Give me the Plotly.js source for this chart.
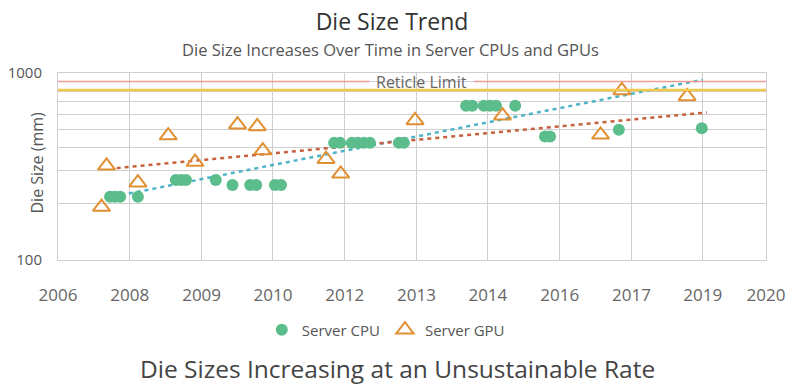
<!DOCTYPE html>
<html>
<head>
<meta charset="utf-8">
<script src="https://cdn.plot.ly/plotly-3.0.1.min.js"></script>
<style>html,body{margin:0;padding:0;background:#fff;}#chart{width:800px;height:390px;}</style>
</head>
<body>
<div id="chart"></div>
<script>
// Server CPU die sizes (mm²) by year
const cpuYears = [2007.03, 2007.13, 2007.23, 2007.58, 2008.33, 2008.43, 2008.53, 2009.12, 2009.45, 2009.80, 2009.92, 2010.29, 2010.41,
                  2011.46, 2011.58, 2011.81, 2011.93, 2012.05, 2012.17, 2012.74, 2012.84,
                  2014.07, 2014.19, 2014.42, 2014.54, 2014.66, 2015.04, 2015.63, 2015.73, 2017.09, 2018.73];
const cpuSizes = [218, 218, 218, 218, 268, 268, 268, 268, 252, 252, 252, 252, 252,
                  423, 423, 423, 423, 423, 423, 423, 423,
                  668, 668, 668, 668, 668, 668, 457, 457, 497, 507];
// Server GPU die sizes (mm²) by year
const gpuYears = [2006.86, 2006.96, 2007.58, 2008.18, 2008.71, 2009.55, 2009.94, 2010.05, 2011.30, 2011.59, 2013.06, 2014.79, 2016.73, 2017.15, 2018.44];
const gpuSizes = [192, 319, 259, 463, 334, 529, 518, 385, 346, 289, 558, 591, 467, 807, 749];
// Trend line endpoints
const cpuTrendX = [2007.09, 2018.75];
const cpuTrendY = [218, 921];
const gpuTrendX = [2007.16, 2018.83];
const gpuTrendY = [310, 615];
// Reticle limit levels
const reticleRed = 900;
const reticleYellow = 810;
// Axis ticks
const xTickVals = [2006, 2007.42, 2008.84, 2010.25, 2011.67, 2013.09, 2014.5, 2015.92, 2017.34, 2018.75, 2020];
const xTickText = ["2006", "2008", "2009", "2010", "2012", "2013", "2014", "2016", "2017", "2019", "2020"];
const yTickVals = [100, 200, 300, 400, 500, 600, 700, 800, 900, 1000];
const yTickText = ["100", "", "", "", "", "", "", "", "", "1000"];

const FONT = "Open Sans, Lato, sans-serif";

const traces = [
  {x: cpuTrendX, y: cpuTrendY, mode: "lines", showlegend: false, hoverinfo: "skip",
   line: {color: "#4db3c8", width: 2.5, dash: "4px,4px"}},
  {x: gpuTrendX, y: gpuTrendY, mode: "lines", showlegend: false, hoverinfo: "skip",
   line: {color: "#c8603e", width: 2.5, dash: "4px,4px"}},
  {x: cpuYears, y: cpuSizes, mode: "markers", name: "Server CPU", type: "scatter",
   marker: {symbol: "circle", size: 12, color: "#5cbd8c", line: {width: 0}}},
  {x: gpuYears, y: gpuSizes, mode: "markers", name: "Server GPU", type: "scatter",
   marker: {symbol: "triangle-up-open", size: 15, color: "#e08f32", line: {width: 2, color: "#e08f32"}}}
];

const layout = {
  width: 800, height: 390,
  margin: {l: 58, r: 34, t: 73, b: 130},
  paper_bgcolor: "#fff", plot_bgcolor: "#fff",
  font: {family: FONT, color: "#555", size: 14},
  title: {text: "Die Size Trend", x: 0.49, xanchor: "center", y: 0.945, yanchor: "middle",
          font: {family: FONT, size: 23, color: "#333"}},
  xaxis: {type: "linear", range: [2006, 2020], tickmode: "array", tickvals: xTickVals, ticktext: xTickText,
          showgrid: true, gridcolor: "#cfcfcf", gridwidth: 1, zeroline: false,
          showline: true, linecolor: "#cfcfcf", mirror: true, ticks: "", ticklen: 0, ticklabelstandoff: 20,
          tickfont: {family: FONT, size: 17, color: "#666"}, automargin: false},
  yaxis: {type: "log", range: [2, 3], tickmode: "array", tickvals: yTickVals, ticktext: yTickText,
          showgrid: true, gridcolor: "#cfcfcf", gridwidth: 1, zeroline: false,
          showline: true, linecolor: "#cfcfcf", mirror: true, ticks: "", ticklabelstandoff: 12,
          tickfont: {family: FONT, size: 15, color: "#555"}, automargin: false},
  legend: {orientation: "h", x: 0.463, xanchor: "center", y: -0.374, yanchor: "middle",
           font: {family: FONT, size: 15, color: "#555"}, itemwidth: 30},
  shapes: [
    {type: "line", xref: "paper", x0: 0, x1: 0.44, yref: "y", y0: reticleRed, y1: reticleRed,
     line: {color: "#ef9a94", width: 1.5}, layer: "above"},
    {type: "line", xref: "paper", x0: 0.588, x1: 1, yref: "y", y0: reticleRed, y1: reticleRed,
     line: {color: "#ef9a94", width: 1.5}, layer: "above"},
    {type: "line", xref: "paper", x0: 0, x1: 1, yref: "y", y0: reticleYellow, y1: reticleYellow,
     line: {color: "#f1c94a", width: 2.5}, layer: "above"}
  ],
  annotations: [
    {text: "Die Size Increases Over Time in Server CPUs and GPUs", xref: "paper", yref: "paper",
     x: 0.47, y: 1.123, xanchor: "center", yanchor: "middle", showarrow: false,
     font: {family: FONT, size: 16.5, color: "#555"}},
    {text: "Die Size (mm)", xref: "paper", yref: "paper", x: -0.03, y: 0.52, textangle: -90,
     xanchor: "center", yanchor: "middle", showarrow: false,
     font: {family: FONT, size: 16, color: "#555"}},
    {text: "Reticle Limit", xref: "paper", yref: "y", x: 0.514, y: Math.log10(reticleRed),
     xanchor: "center", yanchor: "middle", showarrow: false,
     font: {family: FONT, size: 16, color: "#666"}},
    {text: "Die Sizes Increasing at an Unsustainable Rate", xref: "paper", yref: "paper",
     x: 0.48, y: -0.58, xanchor: "center", yanchor: "middle", showarrow: false,
     font: {family: FONT, size: 24.5, color: "#444"}}
  ]
};

Plotly.newPlot("chart", traces, layout, {displayModeBar: false, staticPlot: true});
</script>
</body>
</html>
